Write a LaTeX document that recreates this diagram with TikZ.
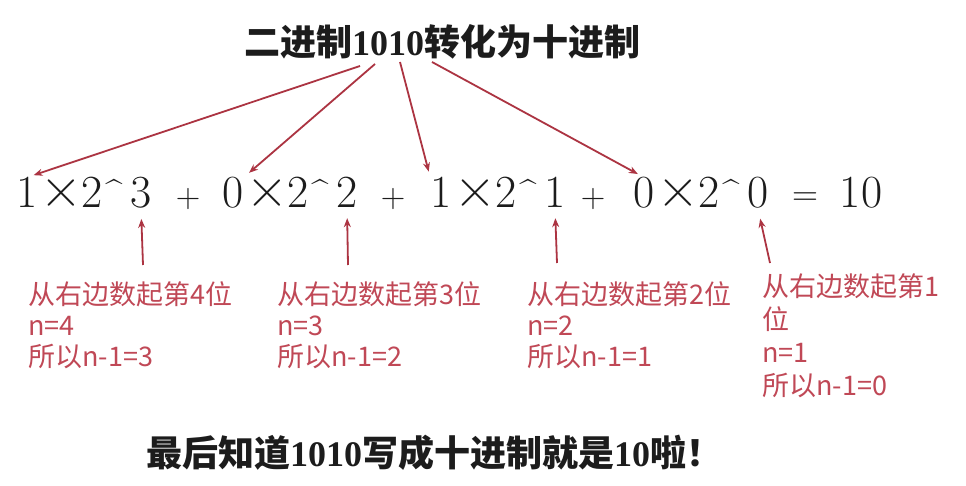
\documentclass[tikz,border=0pt]{standalone}
\usepackage{fontspec}
\newfontfamily\cjk{Noto Sans CJK SC}
\newfontfamily\digf{Liberation Serif}
\usetikzlibrary{arrows.meta,calc}
\definecolor{labred}{RGB}{192,72,86}
\definecolor{arrred}{RGB}{172,52,66}
\definecolor{ink}{RGB}{28,28,28}
\tikzset{
  headtext/.style={font=\cjk\bfseries\fontsize{36}{40}\selectfont, text=ink, inner sep=0},
  eqd/.style={font=\fontsize{46}{46}\selectfont, inner sep=0, anchor=base, text=ink},
  eqtimes/.style={font=\fontsize{58}{58}\selectfont, inner sep=0, anchor=base, text=ink},
  eqcaret/.style={font=\fontsize{30}{30}\selectfont, inner sep=0, anchor=north, text=ink},
  eqsmall/.style={font=\fontsize{34}{34}\selectfont, inner sep=0, anchor=base, text=ink},
  eqmid/.style={font=\fontsize{36}{36}\selectfont, inner sep=0, anchor=base, text=ink},
  lab/.style={font=\cjk\fontsize{27}{31}\selectfont, text=labred, align=left, inner sep=0, anchor=north west},
  conn/.style={draw=arrred, line width=1.8pt, -{Stealth[length=9pt,width=7pt]}},
}
\begin{document}
\begin{tikzpicture}[x=1pt,y=-1pt]
\useasboundingbox (0,0) rectangle (966,486);
\fill[white] (0,0) rectangle (966,486);
% title
\node[headtext] (t) at (442,42) {二进制{\digf 1010}转化为十进制};
% equation
\foreach \i/\c/\e/\x in {1/1/3/27, 2/0/2/233, 3/1/1/441, 4/0/0/644}{
  \node[eqd] (c\i) at (\x,208) {\c};
  \node[eqtimes] (x\i) at (\x+34,208) {×};
  \node[eqd] (b\i) at (\x+65,208) {2};
  \node[eqcaret] (h\i) at (\x+87,179) {\^{}};
  \node[eqd] (e\i) at (\x+114,208) {\e};
}
\node[eqsmall] (p1) at (188,208) {+};
\node[eqsmall] (p2) at (393,208) {+};
\node[eqsmall] (p3) at (593,208) {+};
\node[eqmid] (eq) at (805,206) {=};
\node[eqd] (res) at (861,208) {10};
% labels
\node[lab] (l1) at (28,281) {从右边数起第4位\\n=4\\所以n-1=3};
\node[lab] (l2) at (277,281) {从右边数起第3位\\n=3\\所以n-1=2};
\node[lab] (l3) at (527,281) {从右边数起第2位\\n=2\\所以n-1=1};
\node[lab, font=\cjk\fontsize{27}{33}\selectfont] (l4) at (762,273) {从右边数起第1\\位\\n=1\\所以n-1=0};
% bottom line
\node[headtext] (f) at (434,453) {最后知道{\digf 1010}写成十进制就是{\digf 10}啦！};
% arrow ends
\coordinate (s1) at (360,66);
\coordinate (s2) at (375,64);
\coordinate (s3) at (400,62);
\coordinate (s4) at (432,62);
\coordinate (u1) at (143,265);
\coordinate (u2) at (348,265);
\coordinate (u3) at (557,263);
\coordinate (u4) at (770,263);
% arrows from title
\draw[conn, shorten >=7pt] (s1) -- (c1.north);
\draw[conn, shorten >=7pt] (s2) -- (c2.north east);
\draw[conn, shorten >=6pt] (s3) -- (c3.north west);
\draw[conn, shorten >=7pt] (s4) -- (c4.north);
% arrows from labels
\draw[conn, shorten >=10pt] (u1) -- (e1.south);
\draw[conn, shorten >=10pt] (u2) -- (e2.south);
\draw[conn, shorten >=10pt] (u3) -- (e3.south);
\draw[conn, shorten >=10pt] (u4) -- (e4.south);
\end{tikzpicture}
\end{document}
